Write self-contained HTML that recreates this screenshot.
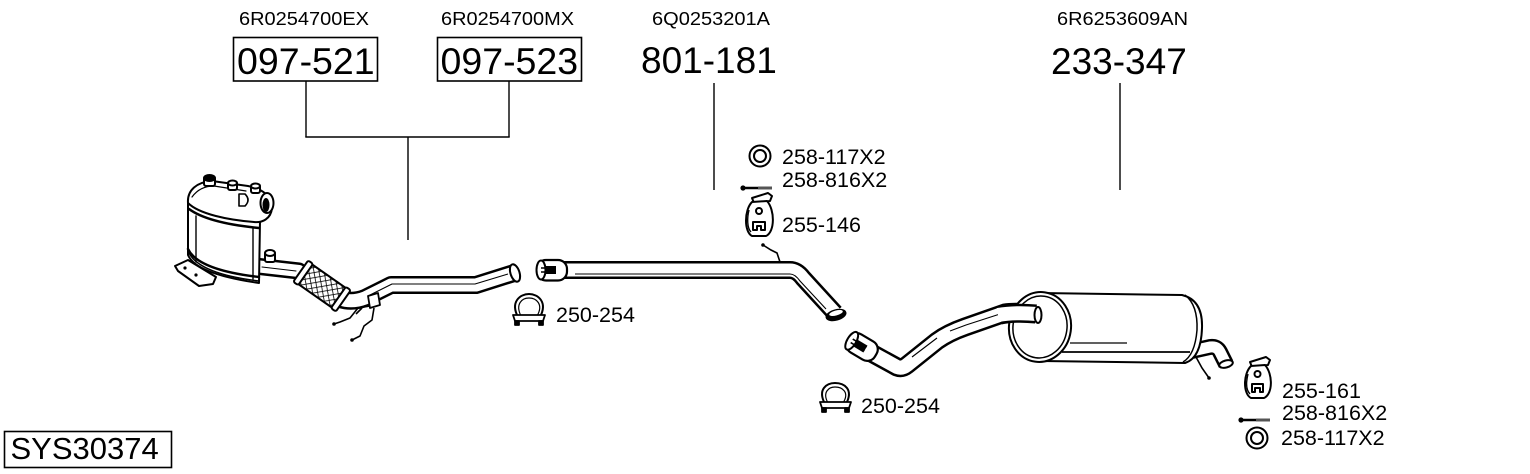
<!DOCTYPE html>
<html><head><meta charset="utf-8"><style>
html,body{margin:0;padding:0;background:#fff;}
svg{display:block;}
text{font-family:"Liberation Sans",Arial,sans-serif;fill:#000;}
</style></head><body>
<svg width="1530" height="474" viewBox="0 0 1530 474" xmlns="http://www.w3.org/2000/svg">
<defs>
<pattern id="hatch" width="5" height="5" patternUnits="userSpaceOnUse" patternTransform="rotate(45)">
<rect width="5" height="5" fill="#fff"/>
<line x1="0" y1="0" x2="0" y2="5" stroke="#000" stroke-width="1.6"/>
<line x1="0" y1="0" x2="5" y2="0" stroke="#000" stroke-width="1.6"/>
</pattern>
</defs>

<!-- top labels -->
<text x="239" y="25" font-size="18.5" textLength="130" lengthAdjust="spacingAndGlyphs">6R0254700EX</text>
<text x="441" y="25" font-size="18.5" textLength="133" lengthAdjust="spacingAndGlyphs">6R0254700MX</text>
<text x="652" y="25" font-size="18.5" textLength="118" lengthAdjust="spacingAndGlyphs">6Q0253201A</text>
<text x="1057" y="25" font-size="18.5" textLength="131" lengthAdjust="spacingAndGlyphs">6R6253609AN</text>

<rect x="233.5" y="37.5" width="144" height="43.5" fill="none" stroke="#000" stroke-width="1.6"/>
<rect x="437.5" y="37.5" width="144" height="43.5" fill="none" stroke="#000" stroke-width="1.6"/>
<text x="237" y="74" font-size="37.5">097-521</text>
<text x="440.5" y="74" font-size="37.5">097-523</text>
<text x="641" y="73" font-size="37">801-181</text>
<text x="1051" y="74" font-size="37">233-347</text>

<g stroke="#000" stroke-width="1.4" fill="none">
<line x1="306" y1="81" x2="306" y2="137"/>
<line x1="509" y1="81" x2="509" y2="137"/>
<line x1="305.3" y1="137" x2="509.7" y2="137"/>
<line x1="408" y1="137" x2="408" y2="240"/>
<line x1="714" y1="83" x2="714" y2="190"/>
<line x1="1120" y1="83" x2="1120" y2="190"/>
</g>

<!-- SYS box -->
<rect x="4.5" y="431.5" width="167" height="36" fill="none" stroke="#000" stroke-width="1.6"/>
<text x="10.5" y="459" font-size="31">SYS30374</text>

<!-- ============ DPF ============ -->
<g stroke="#000" stroke-width="2" fill="#fff" stroke-linejoin="round" stroke-linecap="round">
<path d="M175,266 L188,260 L216,277 L213,284 L199,286 L178,271 Z"/>
<circle cx="185" cy="268" r="1.6" fill="#000" stroke="none"/>
<circle cx="196" cy="275" r="1.6" fill="#000" stroke="none"/>
<path d="M255,266 L299,271" stroke-width="17" fill="none"/>
<path d="M255,266 L299,271" stroke="#fff" stroke-width="12" fill="none"/>
<line x1="262" y1="267" x2="296" y2="271" stroke-width="1"/>
<rect x="265" y="252" width="10" height="10" rx="2"/>
<ellipse cx="270" cy="253" rx="5" ry="3"/>
<path d="M188,203 L188,255 Q196,274 259,283 L260,221 Z"/>
<path d="M188,249 Q198,270 259,277" fill="none" stroke-width="2.5"/>
<path d="M189,253 Q200,274 259,281" fill="none" stroke-width="1.5"/>
<line x1="196" y1="216" x2="196" y2="262" stroke-width="1.4"/>
<line x1="253" y1="228" x2="253" y2="279" stroke-width="1.4"/>
<path d="M188,203 C187,190 197,182 212,181 L248,186 C263,189 273,197 272,208 C271,219 262,223 254,222 C228,220 199,214 188,203 Z"/>
<path d="M189,209 Q208,223 259,228" fill="none" stroke-width="2.5"/>
<path d="M192,197 Q200,186 214,186 L246,191" fill="none" stroke-width="1.2"/>
<rect x="204" y="177" width="11" height="9" rx="2"/>
<ellipse cx="209.5" cy="178" rx="5.5" ry="3" fill="#000"/>
<rect x="228" y="182" width="9" height="8" rx="2"/>
<ellipse cx="232.5" cy="183" rx="4.5" ry="2.5"/>
<rect x="251" y="185" width="9" height="8" rx="2"/>
<ellipse cx="255.5" cy="186" rx="4.5" ry="2.5"/>
<path d="M239,194 L245,194 Q251,200 245,206 L239,206 Z" stroke-width="1.6"/>
<ellipse cx="267" cy="203" rx="6.5" ry="10" stroke-width="2"/>
<ellipse cx="266" cy="205" rx="3.5" ry="7" fill="#000" stroke="none"/>
</g>

<!-- flex + pipe 1 -->
<g stroke-linejoin="round" stroke-linecap="butt" fill="none">
<path d="M340,299 Q352,303 365,298 L391,285 L476,285 L514,273" stroke="#000" stroke-width="18"/>
<path d="M340,299 Q352,303 365,298 L391,285 L476,285 L514,273" stroke="#fff" stroke-width="13"/>
<path d="M368,296 L392,284 L475,284 L508,274" stroke="#000" stroke-width="1.1"/>
</g>
<ellipse cx="515" cy="273" rx="4.5" ry="9" fill="#fff" stroke="#000" stroke-width="2" transform="rotate(-18 515 273)"/>
<g transform="translate(322,286) rotate(35)">
<rect x="-22" y="-12" width="44" height="24" fill="url(#hatch)" stroke="#000" stroke-width="2"/>
<rect x="-26" y="-13" width="6" height="26" rx="2" fill="#fff" stroke="#000" stroke-width="2"/>
<rect x="20" y="-13" width="6" height="26" rx="2" fill="#fff" stroke="#000" stroke-width="2"/>
</g>
<g stroke="#000" stroke-width="1.6" fill="none" stroke-linejoin="round">
<path d="M368,296 L378,293 L380,305 L370,308 Z" fill="#fff" stroke-width="1.8"/>
<path d="M370,306 L358,308 L350,318 L340,322 L334,324"/>
<path d="M374,308 L372,320 L364,326 L360,336 L352,340"/>
<path d="M362,308 L356,314"/>
</g>
<circle cx="334" cy="324" r="1.8" fill="#000"/>
<circle cx="352" cy="340" r="1.8" fill="#000"/>

<!-- ============ pipe 2 (801-181) ============ -->
<g fill="none" stroke-linejoin="round">
<path d="M562,270 L790,270 Q797,270 803,278 L835,313" stroke="#000" stroke-width="18"/>
<path d="M562,270 L790,270 Q797,270 803,278 L835,313" stroke="#fff" stroke-width="13"/>
<path d="M575,274 L790,274 Q795,274 800,281 L826,309" stroke="#000" stroke-width="1.1"/>
</g>
<ellipse cx="836" cy="315" rx="10" ry="5" fill="#000" stroke="#000" stroke-width="1.5" transform="rotate(-15 836 315)"/>
<ellipse cx="836" cy="313" rx="7" ry="2.5" fill="#fff" transform="rotate(-15 836 313)"/>
<rect x="537" y="260" width="30" height="20.5" rx="9" fill="#fff" stroke="#000" stroke-width="2.2"/>
<ellipse cx="541" cy="270" rx="4.5" ry="9.5" fill="#fff" stroke="#000" stroke-width="2"/>
<path d="M541,268 L556,268 M541,272 L556,272" stroke="#000" stroke-width="1.6"/>
<rect x="545" y="266" width="11" height="8" fill="#000"/>
<path d="M763,245 L771,250 L777,253 L780,262" fill="none" stroke="#000" stroke-width="1.6"/>
<circle cx="763" cy="245" r="1.8" fill="#000"/>

<!-- ============ pipe 3 ============ -->
<g fill="none" stroke-linejoin="round">
<path d="M866,350 L897,367 Q902,369 907,365 L937,341 Q948,333 965,327 L1005,313 Q1015,311 1042,314" stroke="#000" stroke-width="19"/>
<path d="M866,350 L897,367 Q902,369 907,365 L937,341 Q948,333 965,327 L1005,313 Q1015,311 1042,314" stroke="#fff" stroke-width="14"/>
<path d="M912,357 L937,338 M950,331 L966,325 L1000,314" stroke="#000" stroke-width="1.1"/>
</g>
<!-- sleeve of pipe 3 -->
<g transform="translate(862,347) rotate(31)">
<rect x="-16" y="-10.5" width="32" height="21" rx="9" fill="#fff" stroke="#000" stroke-width="2.2"/>
<ellipse cx="-12" cy="0" rx="4.5" ry="10" fill="#fff" stroke="#000" stroke-width="2"/>
<path d="M-12,-2 L4,-2 M-12,2 L4,2" stroke="#000" stroke-width="1.6"/>
<rect x="-8" y="-4" width="12" height="8" fill="#000"/>
</g>

<!-- ============ muffler ============ -->
<g stroke="#000" stroke-width="2" fill="#fff" stroke-linejoin="round">
<path d="M1192,351 L1210,347 Q1217,346 1220,352 L1226,364" fill="none" stroke-width="16"/>
<path d="M1192,351 L1210,347 Q1217,346 1220,352 L1226,364" fill="none" stroke="#fff" stroke-width="11"/>
<ellipse cx="1226" cy="364" rx="7" ry="3.5" transform="rotate(-15 1226 364)"/>
<path d="M1040,293 L1182,295 Q1203,300 1202,328 Q1201,358 1185,363 L1042,361 Z"/>
<path d="M1185,295 Q1198,305 1197,330 Q1195,355 1183,362" fill="none" stroke-width="1.5"/>
<line x1="1070" y1="343" x2="1127" y2="343" stroke-width="1.3"/>
<line x1="1062" y1="352" x2="1190" y2="352" stroke-width="1.8"/>
<ellipse cx="1040" cy="327" rx="31" ry="35" transform="rotate(8 1040 327)"/>
<ellipse cx="1040" cy="327" rx="27" ry="31" fill="none" stroke-width="1.5" transform="rotate(8 1040 327)"/>
</g>
<g fill="none">
<path d="M1000,315 Q1015,312 1036,314" stroke="#000" stroke-width="19"/>
<path d="M998,315 Q1015,312 1037,314" stroke="#fff" stroke-width="14"/>
</g>
<ellipse cx="1038" cy="315" rx="3.5" ry="8" fill="#fff" stroke="#000" stroke-width="2"/>
<path d="M1196,357 L1202,368 L1209,378" fill="none" stroke="#000" stroke-width="1.6"/>
<circle cx="1209" cy="378" r="1.8" fill="#000"/>

<!-- ============ small parts ============ -->
<circle cx="760" cy="156" r="10.5" fill="none" stroke="#000" stroke-width="2"/>
<circle cx="760" cy="156" r="6" fill="none" stroke="#000" stroke-width="2"/>
<line x1="743" y1="188" x2="772" y2="188" stroke="#000" stroke-width="2.4"/>
<circle cx="743" cy="188" r="2.6" fill="#000"/>
<line x1="758" y1="188" x2="772" y2="188" stroke="#555" stroke-width="3"/>
<g stroke="#000" stroke-width="2" fill="#fff" stroke-linejoin="round">
<path d="M752,198 L768,193 L772,196 L770,201 L754,203 Z"/>
<path d="M752,202 C744,210 744,232 752,236 L766,236 C775,232 775,210 767,201 Z"/>
<path d="M749,210 C747,218 747,228 751,232" fill="none" stroke-width="1.4"/>
<circle cx="759" cy="211" r="3"/>
<path d="M753,222 L765,222 L765,230 L761,230 L761,226 L757,226 L757,230 L753,230 Z"/>
</g>
<g stroke="#000" stroke-width="1.8" fill="#fff" stroke-linejoin="round">
<path d="M518,317 C510,302 520,294 529,294 C538,294 548,302 540,317" fill="none" stroke-width="2"/>
<path d="M521,316 C515,304 522,298 529,298 C536,298 544,304 537,316" fill="none" stroke-width="1.2"/>
<path d="M513,315 L545,315 L543,321 L515,321 Z"/>
<rect x="515" y="321" width="4" height="4" fill="#000"/>
<rect x="539" y="321" width="4" height="4" fill="#000"/>
</g>
<g stroke="#000" stroke-width="1.8" fill="#fff" stroke-linejoin="round">
<path d="M825,404 C817,389 827,383 835,383 C844,383 854,389 846,404" fill="none" stroke-width="2"/>
<path d="M828,403 C822,392 829,387 835,387 C842,387 850,392 843,403" fill="none" stroke-width="1.2"/>
<path d="M820,402 L851,402 L849,408 L822,408 Z"/>
<rect x="822" y="408" width="4" height="4" fill="#000"/>
<rect x="845" y="408" width="4" height="4" fill="#000"/>
</g>
<g stroke="#000" stroke-width="2" fill="#fff" stroke-linejoin="round">
<path d="M1250,362 L1266,357 L1270,360 L1268,365 L1252,367 Z"/>
<path d="M1251,366 C1243,374 1243,394 1251,398 L1264,398 C1273,394 1273,374 1265,365 Z"/>
<path d="M1248,374 C1246,382 1246,390 1250,394" fill="none" stroke-width="1.4"/>
<circle cx="1257.5" cy="374" r="3"/>
<path d="M1252,384 L1263,384 L1263,392 L1260,392 L1260,388 L1255,388 L1255,392 L1252,392 Z"/>
</g>
<line x1="1241" y1="420" x2="1270" y2="420" stroke="#000" stroke-width="2.4"/>
<circle cx="1241" cy="420" r="2.6" fill="#000"/>
<line x1="1256" y1="420" x2="1270" y2="420" stroke="#555" stroke-width="3"/>
<circle cx="1257" cy="438" r="10.5" fill="none" stroke="#000" stroke-width="2"/>
<circle cx="1257" cy="438" r="6" fill="none" stroke="#000" stroke-width="2"/>

<!-- part labels -->
<text x="782" y="164" font-size="21.5">258-117X2</text>
<text x="782" y="187" font-size="21.5">258-816X2</text>
<text x="782" y="232" font-size="21.5">255-146</text>
<text x="556" y="322" font-size="21.5">250-254</text>
<text x="861" y="413" font-size="21.5">250-254</text>
<text x="1282" y="398" font-size="21.5">255-161</text>
<text x="1282" y="420" font-size="21.5">258-816X2</text>
<text x="1281" y="445" font-size="21.5">258-117X2</text>
</svg>
</body></html>
